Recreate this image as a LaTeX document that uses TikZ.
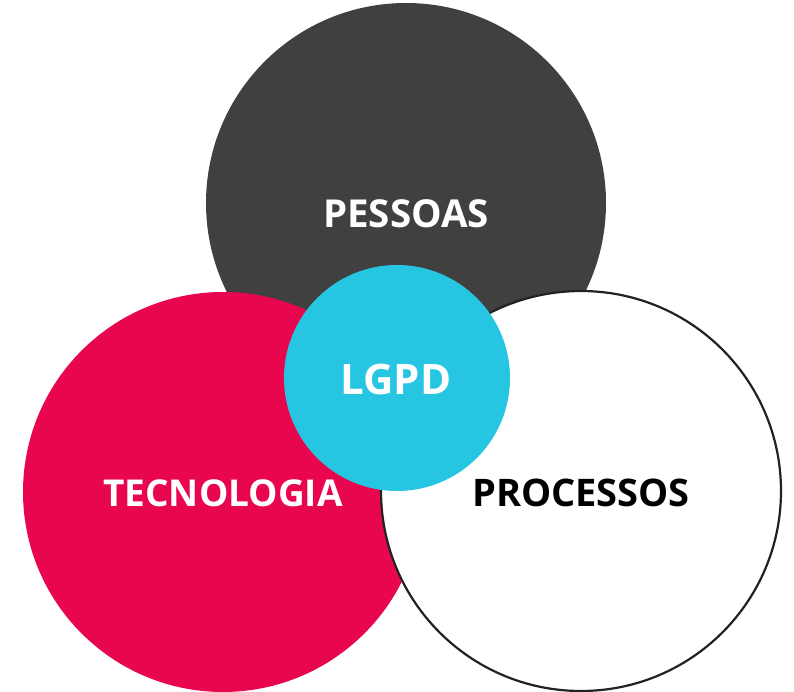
\documentclass[tikz,border=0pt]{standalone}
\usepackage{fontspec}
\setmainfont{Open Sans}
\usepackage{tikz}
\usetikzlibrary{positioning}
\definecolor{pessoascol}{HTML}{404040}
\definecolor{tecnocol}{HTML}{E8074F}
\definecolor{lgpdcol}{HTML}{26C6E3}
\definecolor{bordacol}{HTML}{222222}

\begin{document}
\begin{tikzpicture}[x=1pt,y=-1pt,
		area/.style={circle,inner sep=0pt,minimum size=400pt},
		rotulo/.style={font=\fontsize{37}{40}\selectfont\bfseries,inner sep=0pt}]
				\useasboundingbox (0,0) rectangle (794,692);
				
				% Draw the three big circles
				\node[area,fill=pessoascol] (pessoas) at (406,203) {};
				\node[area,fill=tecnocol] (tecnologia) at (223,492) {};
				\node[area,fill=white,draw=bordacol,line width=2.2pt] (processos) at (581,491) {};
				
				% Draw the small circle in the middle
				\node[circle,inner sep=0pt,minimum size=226pt,fill=lgpdcol] (lgpd) at (397,378) {};
				
				% Place the labels
				\node[rotulo,white,font=\fontsize{38.5}{41}\selectfont\bfseries] (tpessoas) at (406,214) {PESSOAS};
				\node[rotulo,white] (ttecnologia) at (223,493) {TECNOLOGIA};
				\node[rotulo,black,font=\fontsize{38}{41}\selectfont\bfseries] (tprocessos) at (581,493) {PROCESSOS};
				\node[rotulo,white,font=\fontsize{42}{45}\selectfont\bfseries] (tlgpd) at (396,379) {LGPD};
			\end{tikzpicture}
\end{document}
